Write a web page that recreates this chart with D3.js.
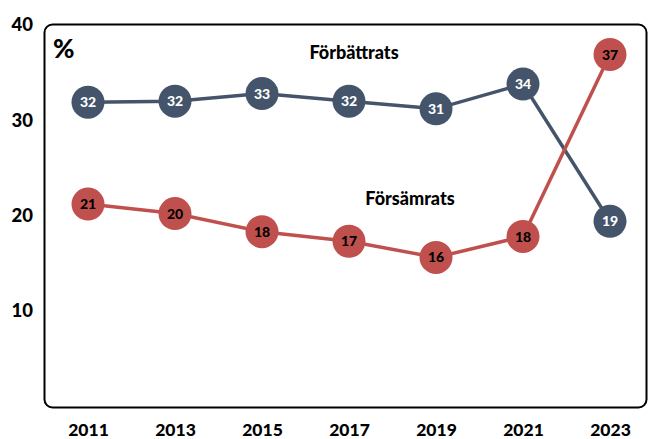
<!DOCTYPE html>
<html>
<head>
<meta charset="utf-8">
<script src="https://cdn.jsdelivr.net/npm/d3@7"></script>
<style>
html,body{margin:0;padding:0;background:#fff;}
svg{display:block;font-family:Lato,"Open Sans",sans-serif;font-weight:900;}
</style>
</head>
<body>
<svg id="chart" width="648" height="439"></svg>
<script>
const years = ["2011","2013","2015","2017","2019","2021","2023"];
const improvedValues = [31.9, 32.0, 32.8, 32.0, 31.2, 33.8, 19.4];
const improvedLabels = ["32","32","33","32","31","34","19"];
const worsenedValues = [21.2, 20.2, 18.3, 17.3, 15.6, 17.8, 36.9];
const worsenedLabels = ["21","20","18","17","16","18","37"];
const yTicks = [10, 20, 30, 40];
const seriesNames = ["Förbättrats", "Försämrats"];

const svg = d3.select("#chart");
const x = d3.scalePoint().domain(years).range([88, 610]);
const y = d3.scaleLinear().domain([0, 40]).range([406, 25]);

// frame
svg.append("rect")
  .attr("x", 44.5).attr("y", 24.5)
  .attr("width", 602).attr("height", 383)
  .attr("rx", 8).attr("ry", 8)
  .attr("fill", "none").attr("stroke", "#000").attr("stroke-width", 2);

const ff = "Lato,'Open Sans',sans-serif";
// y axis
const yAxis = d3.axisLeft(y).tickValues(yTicks).tickSize(0).tickPadding(0);
const gy = svg.append("g").attr("transform", "translate(33,0)").call(yAxis);
gy.select(".domain").remove();
gy.selectAll("text").attr("font-size", 18.5).attr("font-weight", 900)
  .attr("fill", "#000").attr("font-family", ff);

// x axis
const xAxis = d3.axisBottom(x).tickSize(0).tickPadding(0);
const gx = svg.append("g").attr("transform", "translate(0,424)").call(xAxis);
gx.select(".domain").remove();
gx.selectAll("text").attr("font-size", 17.5).attr("font-weight", 900)
  .attr("fill", "#000").attr("font-family", ff);

// % sign
svg.append("text").attr("x", 53).attr("y", 58)
  .attr("font-size", 26).attr("fill", "#000").text("%");

function drawSeries(values, labels, color, textColor) {
  const data = years.map((yr, i) => ({yr, v: values[i], l: labels[i]}));
  svg.append("path").datum(data)
    .attr("fill", "none").attr("stroke", color).attr("stroke-width", 3.5)
    .attr("d", d3.line().x(d => x(d.yr)).y(d => y(d.v)));
  const g = svg.append("g").selectAll("g").data(data).join("g")
    .attr("transform", d => `translate(${x(d.yr)},${y(d.v)})`);
  g.append("circle").attr("r", 16.5).attr("fill", color);
  g.append("text").attr("text-anchor", "middle").attr("dy", "0.36em")
    .attr("font-size", 14).attr("fill", textColor).text(d => d.l);
}

drawSeries(improvedValues, improvedLabels, "#44546A", "#fff");
drawSeries(worsenedValues, worsenedLabels, "#C0504D", "#000");

svg.append("text").attr("x", 354).attr("y", 59).attr("text-anchor", "middle")
  .attr("font-size", 18).attr("fill", "#000").text(seriesNames[0]);
svg.append("text").attr("x", 410).attr("y", 205).attr("text-anchor", "middle")
  .attr("font-size", 18).attr("fill", "#000").text(seriesNames[1]);
</script>
</body>
</html>
